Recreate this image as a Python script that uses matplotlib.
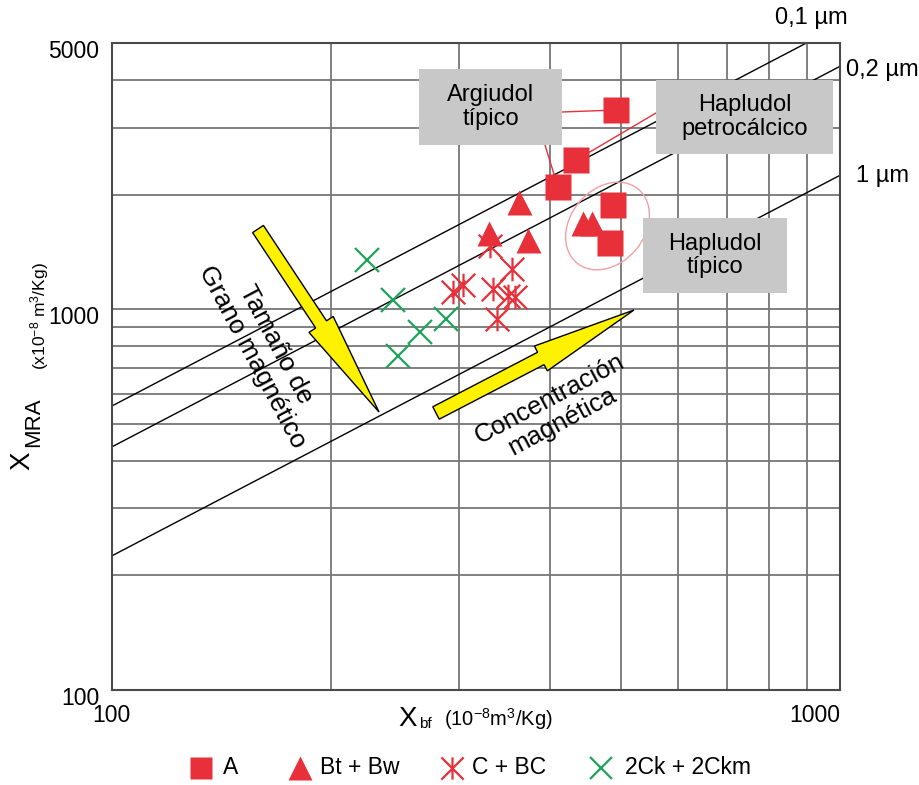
import numpy as np
import matplotlib.pyplot as plt
from matplotlib.path import Path
from matplotlib.patches import Rectangle, Ellipse, FancyArrow
from matplotlib.lines import Line2D
from matplotlib.ticker import NullFormatter
from matplotlib.transforms import Affine2D, ScaledTranslation

plt.rcParams['font.family'] = ['Liberation Sans', 'DejaVu Sans']
plt.rcParams['mathtext.fontset'] = 'custom'
plt.rcParams['mathtext.rm'] = 'Liberation Sans'
plt.rcParams['mathtext.default'] = 'regular'

# horizonte A
a_x = [493, 434, 410, 488, 484]
a_y = [3340, 2466, 2094, 1878, 1492]
# Bt + Bw
bt_x = [362, 330, 373, 444, 456]
bt_y = [1909, 1591, 1522, 1691, 1691]
# C + BC
c_x = [331, 355, 294, 304, 334, 350, 358, 338]
c_y = [1465, 1274, 1109, 1157, 1129, 1082, 1075, 941]
# 2Ck + 2Ckm
ck_x = [224, 243, 288, 265, 247]
ck_y = [1345, 1056, 941, 870, 752]

# lineas de tamaño de grano (X_MRA / X_bf)
grain_labels = ['0,1 µm', '0,2 µm', '1 µm']
grain_ratio = [5.57, 4.35, 2.25]

legend_labels = ['A', 'Bt + Bw', 'C + BC', '2Ck + 2Ckm']

red = '#e8303a'
green = '#1fa35a'
yellow = '#fff200'
box_gray = '#c8c8c8'

fig = plt.figure(figsize=(9.2, 7.85), dpi=100)
ax = fig.add_axes([111.7 / 920, 1 - 690 / 785, (840 - 111.7) / 920, (690 - 43.3) / 785])
# pixel coords of the image (origin top-left) for annotations
px = Affine2D().scale(0.01, -0.01).translate(0, 7.85) + fig.dpi_scale_trans

ax.set_xscale('log')
ax.set_yscale('log')
ax.set_xlim(100, 1000)
ax.set_ylim(100, 5000)
ax.set_xticks([100, 1000])
ax.set_xticklabels(['100', '1000'])
ax.set_yticks([100, 1000, 5000])
ax.set_yticklabels(['100', '1000', '5000'])
ax.xaxis.set_minor_formatter(NullFormatter())
ax.yaxis.set_minor_formatter(NullFormatter())
ax.xaxis.get_majorticklabels()[1].set_horizontalalignment('right')
ax.tick_params(which='both', length=0, labelsize=16.5)
ax.tick_params(axis='x', pad=10)
ax.tick_params(axis='y', pad=9)
for lab in ax.get_yticklabels():
    lab.set_transform(lab.get_transform() + ScaledTranslation(0, -0.06, fig.dpi_scale_trans))
ax.grid(True, which='both', color='#767676', lw=1.3)
ax.set_axisbelow(True)
for s in ax.spines.values():
    s.set_color('#4a4a4a')
    s.set_linewidth(1.5)

# grain size lines
xl = np.array([100, 1000])
for k in grain_ratio:
    ax.plot(xl, k * xl, color='k', lw=1, zorder=2)

# label boxes
boxes = [((419, 69, 143, 76), 'Argiudol\ntípico'),
         ((656, 80, 177, 74), 'Hapludol\npetrocálcico'),
         ((643, 218, 144, 75), 'Hapludol\ntípico')]
for (bx, by, bw, bh), txt in boxes:
    ax.add_patch(Rectangle((bx, by), bw, bh, transform=px, fc=box_gray, ec='none',
                           zorder=3.5, clip_on=False))
    ax.text(bx + bw / 2, by + bh / 2, txt, transform=px, ha='center', va='center',
            fontsize=17, zorder=3.6, linespacing=1.1)

# connectors from boxes to samples
for (sx, sy), i in [((562, 112), 0), ((545, 145), 2), ((656, 113), 1)]:
    ax.annotate('', xy=(a_x[i], a_y[i]), xycoords='data', xytext=(sx, sy), textcoords=px,
                arrowprops=dict(arrowstyle='-', color=red, lw=1, shrinkA=0, shrinkB=0),
                zorder=3)

ax.add_patch(Ellipse((607.5, 226), 96, 74, angle=-50, transform=px, fill=False,
                     ec='#f2a0a4', lw=1, zorder=3))

# arrows
ax.add_patch(FancyArrow(258, 229, 121, 183, width=13, head_width=29, head_length=105,
                        length_includes_head=True, fc=yellow, ec='k', lw=1,
                        transform=px, zorder=3, clip_on=False))
ax.add_patch(FancyArrow(436, 413, 198, -103, width=14, head_width=28, head_length=105,
                        length_includes_head=True, fc=yellow, ec='k', lw=1,
                        transform=px, zorder=3, clip_on=False))
ax.text(264, 351, 'Tamaño de\nGrano magnético', transform=px, rotation=-62,
        rotation_mode='anchor', ha='center', va='center', fontsize=19, zorder=3.6,
        linespacing=1.15)
ax.text(556, 410, 'Concentración\nmagnética', transform=px, rotation=28,
        rotation_mode='anchor', ha='center', va='center', fontsize=18.5, zorder=3.6,
        linespacing=1.08)

# samples
star = Path([(0, -1), (0, 1), (-1, -1), (1, 1), (-1, 1), (1, -1)],
            [Path.MOVETO, Path.LINETO, Path.MOVETO, Path.LINETO, Path.MOVETO, Path.LINETO])
ax.plot(c_x, c_y, ls='none', marker=star, ms=17, mec=red, mfc='none', mew=1.6, zorder=4)
ax.plot(ck_x, ck_y, ls='none', marker='x', ms=17, mec=green, mew=1.6, zorder=4)
ax.plot(bt_x, bt_y, ls='none', marker='^', ms=18, color=red, mec='none', zorder=5)
ax.plot(a_x, a_y, ls='none', marker='s', ms=18.5, color=red, mec='none', zorder=5)

# line labels
for lab, (lx, ly) in zip(grain_labels, [(811, 18), (882, 70), (882, 176)]):
    fig.text(lx, ly, lab, transform=px, ha='center', va='center', fontsize=17)

# axis titles
fig.text(408, 719, 'X', transform=px, ha='center', va='center', fontsize=20)
fig.text(419, 724, 'bf', transform=px, ha='left', va='center', fontsize=11)
fig.text(444, 719, '(10$^{-8}$m$^{3}$/Kg)', transform=px, ha='left', va='center', fontsize=14.5)
fig.text(22, 461, 'X', transform=px, rotation=90, ha='center', va='center', fontsize=20)
fig.text(34, 422, 'MRA', transform=px, rotation=90, ha='center', va='center', fontsize=16)
fig.text(40, 316, '(x10$^{-8}$ m$^{3}$/Kg)', transform=px, rotation=90, ha='center',
         va='center', fontsize=12.5)

# legend row
leg_styles = [dict(marker='s', ms=16, color=red, mec='none'),
              dict(marker='^', ms=17, color=red, mec='none'),
              dict(marker=star, ms=16, mec=red, mew=1.6),
              dict(marker='x', ms=16, mec=green, mew=1.6)]
leg_pos = [(200.5, 223), (299.5, 320), (451.5, 472), (600.5, 625)]
for lab, st, (hx, tx) in zip(legend_labels, leg_styles, leg_pos):
    fig.add_artist(Line2D([hx], [768], ls='none', transform=px, **st))
    fig.text(tx, 768, lab, transform=px, ha='left', va='center', fontsize=16.5)

fig.savefig('out.png', dpi=100)
